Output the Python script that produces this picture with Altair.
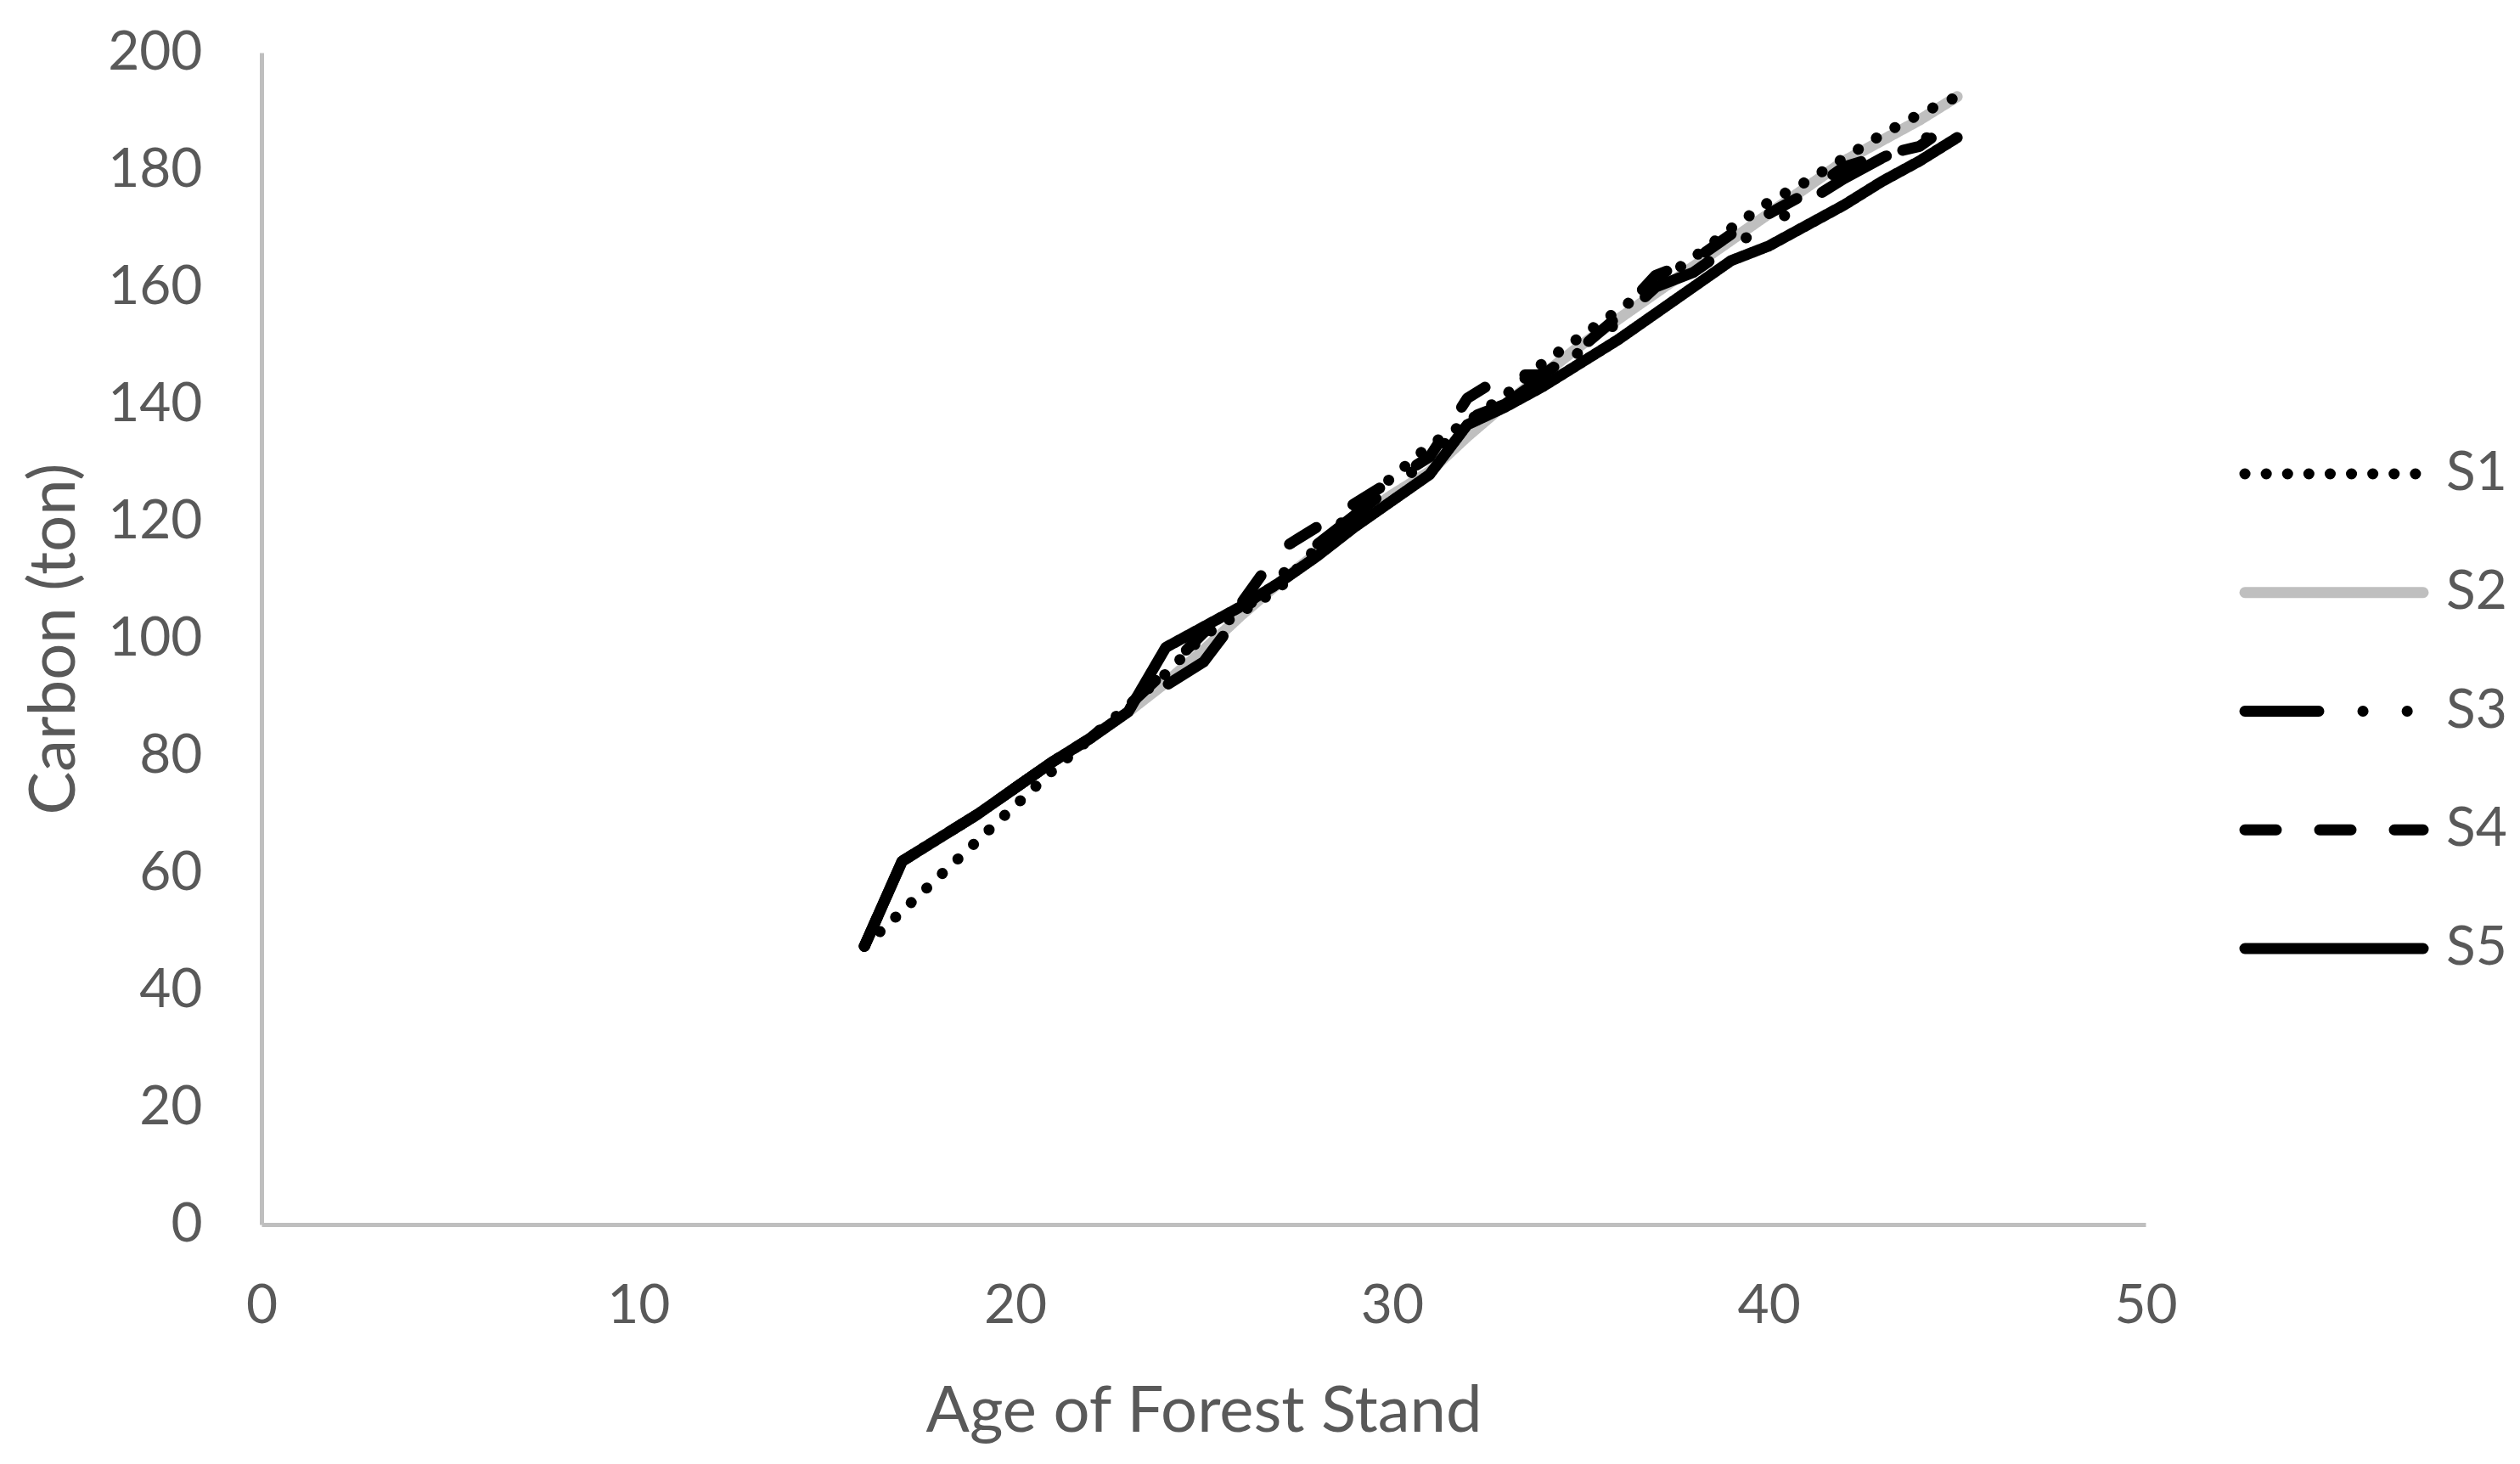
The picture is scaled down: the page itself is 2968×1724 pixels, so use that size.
import altair as alt
import pandas as pd

ages = list(range(16, 46))

s1 = [47.5, 53.5, 59.5, 65.5, 71.5, 77.5, 83, 88.5, 94, 100.5, 104.5, 108.5, 115.5, 122, 127.5,
      133, 137, 141.5, 147, 151.5, 156, 160.5, 165, 170, 174.5, 178, 182, 186, 189.5, 192.5]
s2 = [47.5, 62, 66, 70, 74.5, 79, 83, 87.5, 92.5, 98, 104, 109.5, 114.5, 120, 124.5,
      128.5, 134.5, 140, 145, 150, 154.5, 159, 163.5, 168, 172.5, 177, 181.5, 185, 188.5, 192.5]
s3 = [47.5, 62, 66, 70, 74.5, 79, 83, 88, 92, 96, 104.5, 110.5, 116, 121, 126,
      130.5, 137.5, 140, 144.5, 149, 154, 160, 162.5, 167, 170.5, 174.5, 178.5, 182, 185, 187.5]
s4 = [47.5, 62, 66, 70, 74.5, 79, 83, 88.5, 94.5, 101, 106, 115, 119, 123, 127,
      131, 141, 145, 145, 149.5, 155, 162, 164.5, 169, 172.5, 176, 180.5, 182.5, 184, 188.5]
s5 = [47.5, 62, 66, 70, 74.5, 79, 83, 87.5, 98.5, 102, 105.5, 109.5, 114, 119, 123.5,
      128, 136.5, 139.5, 143, 147, 151, 155.5, 160, 164.5, 167, 170.5, 174, 178, 181.5, 185.5]

series_names = ["S1", "S2", "S3", "S4", "S5"]
series_values = [s1, s2, s3, s4, s5]
series_colors = ["#000000", "#BFBFBF", "#000000", "#000000", "#000000"]
series_dash = [[0.1, 25], [1, 0], [87, 52, 0.1, 52, 0.1, 52], [37, 51], [1, 0]]
draw_order = ["S2", "S1", "S3", "S4", "S5"]

x_ticks = [0, 10, 20, 30, 40, 50]
y_ticks = [0, 20, 40, 60, 80, 100, 120, 140, 160, 180, 200]

FONT = "Lato"
TXT = "#595959"
LW = 13

rows = []
for name, vals in zip(series_names, series_values):
    for a, v in zip(ages, vals):
        rows.append({"age": a, "carbon": v, "series": name})
df = pd.DataFrame(rows)

x_axis = alt.Axis(values=x_ticks, title="Age of Forest Stand", titleY=220,
                  titleBaseline="middle", labelFlush=False)
y_axis = alt.Axis(values=y_ticks, title="Carbon (ton)", titleX=-244, titleY=690,
                  titleAlign="center", titleBaseline="middle", titleAngle=-90,
                  labelFlush=False)

line_layers = []
for name in draw_order:
    idx = series_names.index(name)
    layer = alt.Chart(df[df["series"] == name]).mark_line(
        strokeWidth=LW, strokeCap="round", strokeJoin="round",
        color=series_colors[idx], strokeDash=series_dash[idx]
    ).encode(
        x=alt.X("age:Q", scale=alt.Scale(domain=[0, 50], nice=False), axis=x_axis),
        y=alt.Y("carbon:Q", scale=alt.Scale(domain=[0, 200], nice=False), axis=y_axis),
    )
    line_layers.append(layer)

lines = alt.layer(*line_layers)

leg_df = pd.DataFrame({"series": series_names})
leg_y = alt.Y("series:N", scale=alt.Scale(type="point", domain=series_names,
                                            range=[496, 1055], padding=0), axis=None)

leg_rules = alt.Chart(leg_df).mark_rule(strokeWidth=LW, strokeCap="round").encode(
    x=alt.value(2336), x2=alt.value(2546),
    y=leg_y,
    color=alt.Color("series:N", scale=alt.Scale(domain=series_names, range=series_colors), legend=None),
    strokeDash=alt.StrokeDash("series:N", scale=alt.Scale(domain=series_names, range=series_dash), legend=None),
)
leg_text = alt.Chart(leg_df).mark_text(
    align="left", baseline="middle", font=FONT, fontSize=64, color=TXT
).encode(
    x=alt.value(2573), y=leg_y, text="series:N"
)

legend = alt.layer(leg_rules, leg_text)

chart = alt.layer(lines, legend).resolve_scale(
    y="independent"
).properties(
    width=2219, height=1380,
    padding={"left": 300, "top": 54, "right": 433, "bottom": 274},
    autosize=alt.AutoSizeParams(type="none"),
).configure_view(stroke=None).configure_axis(
    domainColor="#BFBFBF", domainWidth=5, ticks=False, grid=False,
    labelFont=FONT, labelFontSize=64, labelColor=TXT, labelPadding=70,
    titleFont=FONT, titleFontSize=76, titleColor=TXT, titleFontWeight="normal",
).configure_axisX(labelPadding=64)

chart.save("out.html", embed_options={"renderer": "svg", "actions": False})
